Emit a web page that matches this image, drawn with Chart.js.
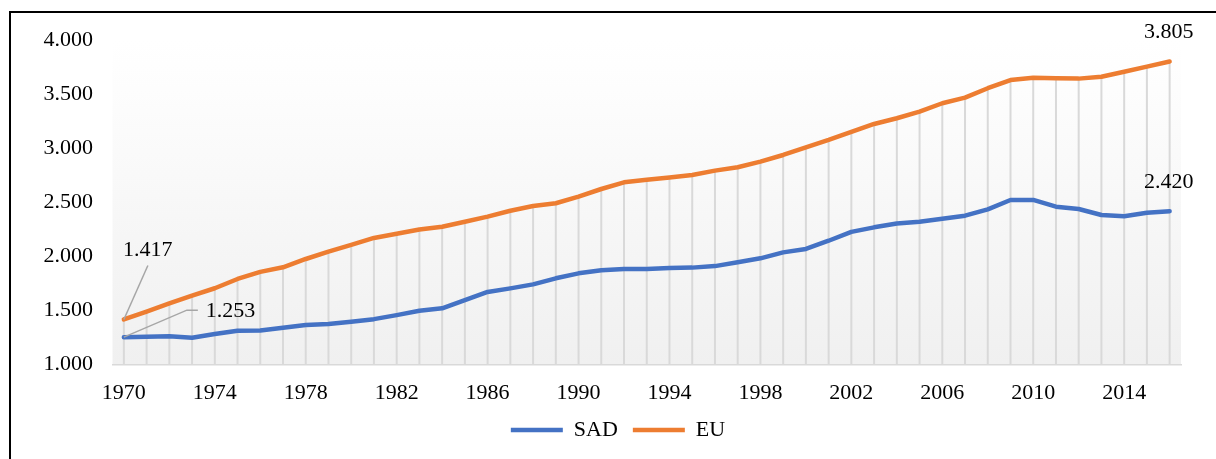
<!DOCTYPE html>
<html>
<head>
<meta charset="utf-8">
<script src="https://cdn.jsdelivr.net/npm/chart.js@4/dist/chart.umd.min.js"></script>
<style>
  html, body { margin: 0; padding: 0; background: #fff; overflow: hidden; }
  #frame {
    position: absolute;
    left: 9px;
    top: 11px;
    width: 1240px;
    height: 470px;
    border: 2px solid #000;
  }
  #wrap {
    position: absolute;
    left: 0;
    top: 0;
    width: 1214px;
    height: 440px;
  }
</style>
</head>
<body>
<div id="frame"><div id="wrap"><canvas id="chart"></canvas></div></div>
<script>
// godine 1970 - 2016
let years = [
    '1970', '1971', '1972', '1973', '1974', '1975', '1976', '1977', '1978', '1979',
    '1980', '1981', '1982', '1983', '1984', '1985', '1986', '1987', '1988', '1989',
    '1990', '1991', '1992', '1993', '1994', '1995', '1996', '1997', '1998', '1999',
    '2000', '2001', '2002', '2003', '2004', '2005', '2006', '2007', '2008', '2009',
    '2010', '2011', '2012', '2013', '2014', '2015', '2016'
];
let sadValues = [
    1253, 1257, 1262, 1248, 1282, 1313, 1314, 1340, 1365, 1374,
    1396, 1420, 1457, 1498, 1520, 1597, 1672, 1705, 1742, 1798,
    1844, 1873, 1884, 1884, 1893, 1897, 1911, 1946, 1983, 2038,
    2070, 2146, 2228, 2270, 2306, 2322, 2350, 2378, 2437, 2523,
    2524, 2461, 2440, 2384, 2373, 2405, 2420
];
let euValues = [
    1417, 1490, 1565, 1637, 1706, 1792, 1858, 1900, 1977, 2045,
    2107, 2172, 2210, 2250, 2276, 2322, 2369, 2424, 2468, 2493,
    2554, 2625, 2687, 2710, 2732, 2755, 2795, 2826, 2878, 2940,
    3011, 3079, 3153, 3227, 3280, 3341, 3419, 3471, 3558, 3634,
    3656, 3650, 3647, 3665, 3711, 3758, 3805
];
let yTicks = [1000, 1500, 2000, 2500, 3000, 3500, 4000];

let fontFamily = "'Liberation Serif', 'Times New Roman', serif";
let fontSize = 22;

function fmt(v) {
    return String(v).replace(/\B(?=(\d{3})+(?!\d))/g, '.');
}

// gradient pozadina plot area
let plotBg = {
    id: 'plotBg',
    beforeDraw(chart) {
        let { ctx, chartArea } = chart;
        let g = ctx.createLinearGradient(0, chartArea.top, 0, chartArea.bottom);
        g.addColorStop(0, '#ffffff');
        g.addColorStop(0.15, '#fdfdfd');
        g.addColorStop(1, '#f0f0f0');
        ctx.save();
        ctx.fillStyle = g;
        ctx.fillRect(chartArea.left, chartArea.top, chartArea.width, chartArea.height);
        ctx.restore();
    }
};

// okomite linije od EU tocaka do osi
let dropLines = {
    id: 'dropLines',
    beforeDatasetsDraw(chart) {
        let { ctx, chartArea } = chart;
        let meta = chart.getDatasetMeta(1);
        ctx.save();
        ctx.strokeStyle = '#d9d9d9';
        ctx.lineWidth = 2;
        meta.data.forEach(p => {
            ctx.beginPath();
            ctx.moveTo(p.x, p.y);
            ctx.lineTo(p.x, chartArea.bottom);
            ctx.stroke();
        });
        ctx.restore();
    }
};

// oznake vrijednosti na pocetku i kraju
let endLabels = {
    id: 'endLabels',
    afterDatasetsDraw(chart) {
        let ctx = chart.ctx;
        let sad = chart.getDatasetMeta(0).data;
        let eu = chart.getDatasetMeta(1).data;
        let last = years.length - 1;
        ctx.save();
        ctx.font = fontSize + 'px ' + fontFamily;
        ctx.fillStyle = '#000';
        ctx.textBaseline = 'middle';

        // leader lines
        ctx.strokeStyle = '#a6a6a6';
        ctx.lineWidth = 1.5;
        let pe = eu[0];
        ctx.beginPath();
        ctx.moveTo(pe.x, pe.y);
        ctx.lineTo(pe.x + 24, pe.y - 54);
        ctx.stroke();
        let ps = sad[0];
        ctx.beginPath();
        ctx.moveTo(ps.x, ps.y);
        ctx.lineTo(ps.x + 63, ps.y - 27);
        ctx.lineTo(ps.x + 74, ps.y - 27);
        ctx.stroke();

        ctx.textAlign = 'center';
        ctx.fillText(fmt(euValues[0]), pe.x + 24, pe.y - 69);
        ctx.textAlign = 'left';
        ctx.fillText(fmt(sadValues[0]), ps.x + 82, ps.y - 26);

        ctx.textAlign = 'center';
        ctx.fillText(fmt(euValues[last]), eu[last].x - 1, eu[last].y - 29);
        ctx.fillText(fmt(sadValues[last]), sad[last].x - 1, sad[last].y - 29);
        ctx.restore();
    }
};

let chart = new Chart(
    document.getElementById('chart'),
    {
        type: 'line',
        data: {
            labels: years,
            datasets: [
                {
                    label: 'SAD',
                    data: sadValues,
                    borderColor: '#4472c4',
                    backgroundColor: '#4472c4',
                    borderWidth: 4.5,
                    borderCapStyle: 'round',
                    borderJoinStyle: 'round',
                    pointRadius: 0,
                    tension: 0
                },
                {
                    label: 'EU',
                    data: euValues,
                    borderColor: '#ed7d31',
                    backgroundColor: '#ed7d31',
                    borderWidth: 4.5,
                    borderCapStyle: 'round',
                    borderJoinStyle: 'round',
                    pointRadius: 0,
                    tension: 0
                }
            ]
        },
        options: {
            responsive: true,
            maintainAspectRatio: false,
            animation: false,
            layout: {
                padding: { left: 0, right: 0, top: 27.5, bottom: 2 }
            },
            plugins: {
                tooltip: { enabled: false },
                legend: {
                    position: 'bottom',
                    labels: {
                        usePointStyle: true,
                        pointStyle: 'line',
                        pointStyleWidth: 52,
                        padding: 15,
                        color: '#000',
                        font: { family: fontFamily, size: fontSize }
                    }
                }
            },
            scales: {
                x: {
                    offset: true,
                    grid: { display: false, drawTicks: false },
                    border: { display: true, color: '#d9d9d9', width: 1.5 },
                    ticks: {
                        autoSkip: false,
                        maxRotation: 0,
                        padding: 15.5,
                        color: '#000',
                        font: { family: fontFamily, size: fontSize },
                        callback: (v, i) => (i % 4 === 0 ? years[i] : '')
                    },
                    afterFit: scale => { scale.height = 39.5; }
                },
                y: {
                    min: 1000,
                    max: 4000,
                    grid: { display: false, drawTicks: false },
                    border: { display: false },
                    afterBuildTicks: scale => {
                        scale.ticks = yTicks.map(v => ({ value: v }));
                    },
                    ticks: {
                        padding: 19.5,
                        color: '#000',
                        font: { family: fontFamily, size: fontSize },
                        callback: v => fmt(v)
                    },
                    afterFit: scale => {
                        scale.width = 101.5;
                        scale.paddingTop = 0;
                        scale.paddingBottom = 0;
                    }
                },
                // prazan desni prostor, da legenda ostane na sredini
                yr: {
                    position: 'right',
                    display: true,
                    grid: { display: false },
                    border: { display: false },
                    ticks: { display: false },
                    afterFit: scale => {
                        scale.width = 44;
                        scale.paddingTop = 0;
                        scale.paddingBottom = 0;
                    }
                }
            }
        },
        plugins: [plotBg, dropLines, endLabels]
    }
);
</script>
</body>
</html>
